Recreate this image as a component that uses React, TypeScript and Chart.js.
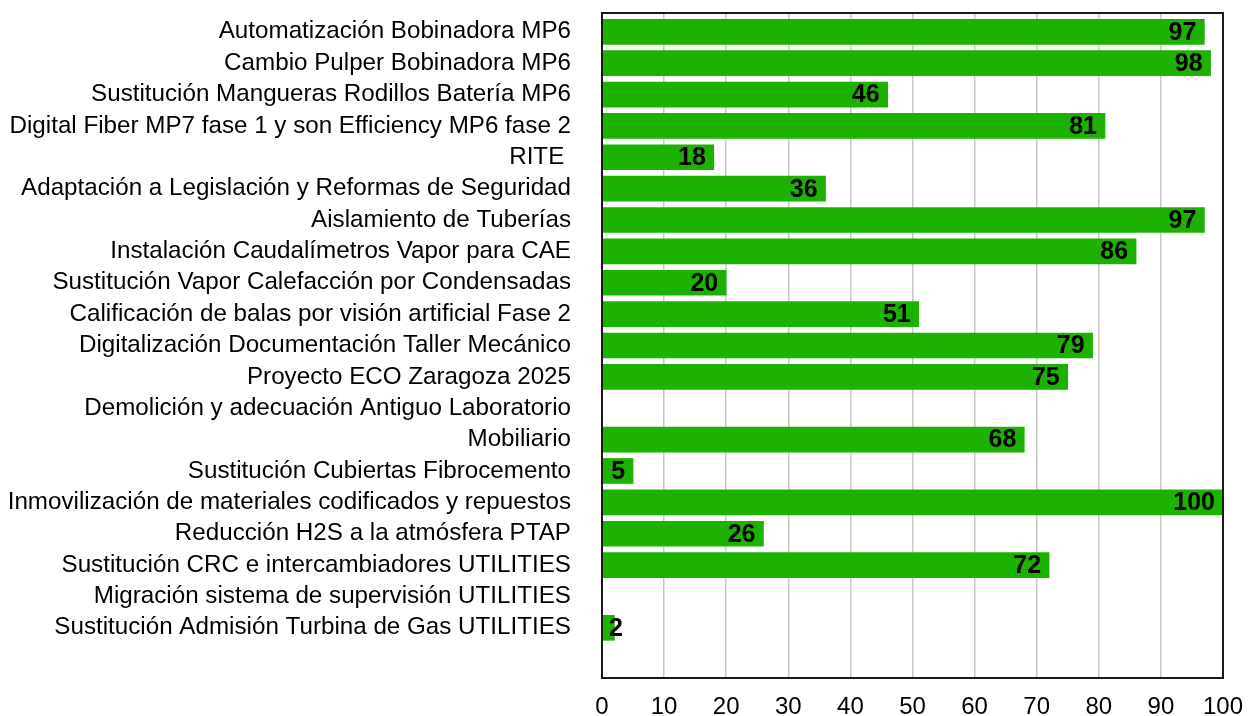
import React, { useEffect, useRef } from "react";
import { Chart, registerables } from "chart.js";

Chart.register(...registerables);

const categories = [
  "Automatización Bobinadora MP6",
  "Cambio Pulper Bobinadora MP6",
  "Sustitución Mangueras Rodillos Batería MP6",
  "Digital Fiber MP7 fase 1 y son Efficiency MP6 fase 2",
  "RITE ",
  "Adaptación a Legislación y Reformas de Seguridad",
  "Aislamiento de Tuberías",
  "Instalación Caudalímetros Vapor para CAE",
  "Sustitución Vapor Calefacción por Condensadas",
  "Calificación de balas por visión artificial Fase 2",
  "Digitalización Documentación Taller Mecánico",
  "Proyecto ECO Zaragoza 2025",
  "Demolición y adecuación Antiguo Laboratorio",
  "Mobiliario",
  "Sustitución Cubiertas Fibrocemento",
  "Inmovilización de materiales codificados y repuestos",
  "Reducción H2S a la atmósfera PTAP",
  "Sustitución CRC e intercambiadores UTILITIES",
  "Migración sistema de supervisión UTILITIES",
  "Sustitución Admisión Turbina de Gas UTILITIES",
];

const values: (number | null)[] = [
  97, 98, 46, 81, 18, 36, 97, 86, 20, 51, 79, 75, null, 68, 5, 100, 26, 72, null, 2,
];

const xTicks = [0, 10, 20, 30, 40, 50, 60, 70, 80, 90, 100];

const FONT = "'Liberation Sans', Arial, Helvetica, sans-serif";
const GREEN = "#1eb200";

const valueLabels = {
  id: "valueLabels",
  afterDatasetsDraw(chart: any) {
    const ctx = chart.ctx;
    const meta = chart.getDatasetMeta(0);
    const xScale = chart.scales.x;
    const base = xScale.getPixelForValue(0);
    ctx.save();
    ctx.font = `bold 25px ${FONT}`;
    ctx.fillStyle = "#000";
    ctx.textBaseline = "middle";
    ctx.textAlign = "left";
    meta.data.forEach((bar: any, i: number) => {
      const v = values[i];
      if (v === null || v === undefined) return;
      const txt = String(v);
      const w = ctx.measureText(txt).width;
      const x = Math.max(bar.x - 8 - w, base + 7);
      ctx.fillText(txt, x, bar.y + 1);
    });
    ctx.restore();
  },
};

const frame = {
  id: "frame",
  afterDraw(chart: any) {
    const { ctx, chartArea } = chart;
    ctx.save();
    ctx.strokeStyle = "#1a1a1a";
    ctx.lineWidth = 2;
    ctx.strokeRect(chartArea.left, chartArea.top, chartArea.right - chartArea.left, chartArea.bottom - chartArea.top);
    ctx.restore();
  },
};

export default function App() {
  const ref = useRef<HTMLCanvasElement>(null);
  useEffect(() => {
    document.body.style.margin = "0";
    const chart = new Chart(ref.current as HTMLCanvasElement, {
      type: "bar",
      data: {
        labels: categories,
        datasets: [
          {
            data: values,
            backgroundColor: GREEN,
            borderWidth: 0,
            barThickness: 25,
          },
        ],
      },
      options: {
        indexAxis: "y",
        animation: false,
        responsive: false,
        layout: { padding: { top: 13, right: 28, left: 0, bottom: 0 } },
        plugins: { legend: { display: false }, tooltip: { enabled: false } },
        scales: {
          x: {
            type: "linear",
            min: 0,
            max: 100,
            afterBuildTicks: (axis: any) => {
              axis.ticks = xTicks.map((v) => ({ value: v }));
            },
            afterFit: (axis: any) => {
              axis.height = 38;
              axis.paddingLeft = 0;
              axis.paddingRight = 0;
            },
            grid: { color: "#c8c8c8", lineWidth: 1.5, drawTicks: false },
            border: { display: false },
            ticks: { color: "#000", font: { family: FONT, size: 24 }, padding: 15, maxRotation: 0 },
          },
          y: {
            type: "category",
            afterBuildTicks: (axis: any) => {
              axis._startValue = -0.6;
              axis._valueRange = 21.2;
            },
            afterFit: (axis: any) => {
              axis.width = 602;
              axis.paddingTop = 0;
              axis.paddingBottom = 0;
            },
            grid: { display: false, drawTicks: false },
            border: { display: false },
            ticks: { color: "#000", font: { family: FONT, size: 24.2 }, padding: 31, autoSkip: false },
          },
        },
      },
      plugins: [valueLabels, frame],
    });
    return () => chart.destroy();
  }, []);
  return <canvas ref={ref} width={1251} height={716} style={{ display: "block" }} />;
}
